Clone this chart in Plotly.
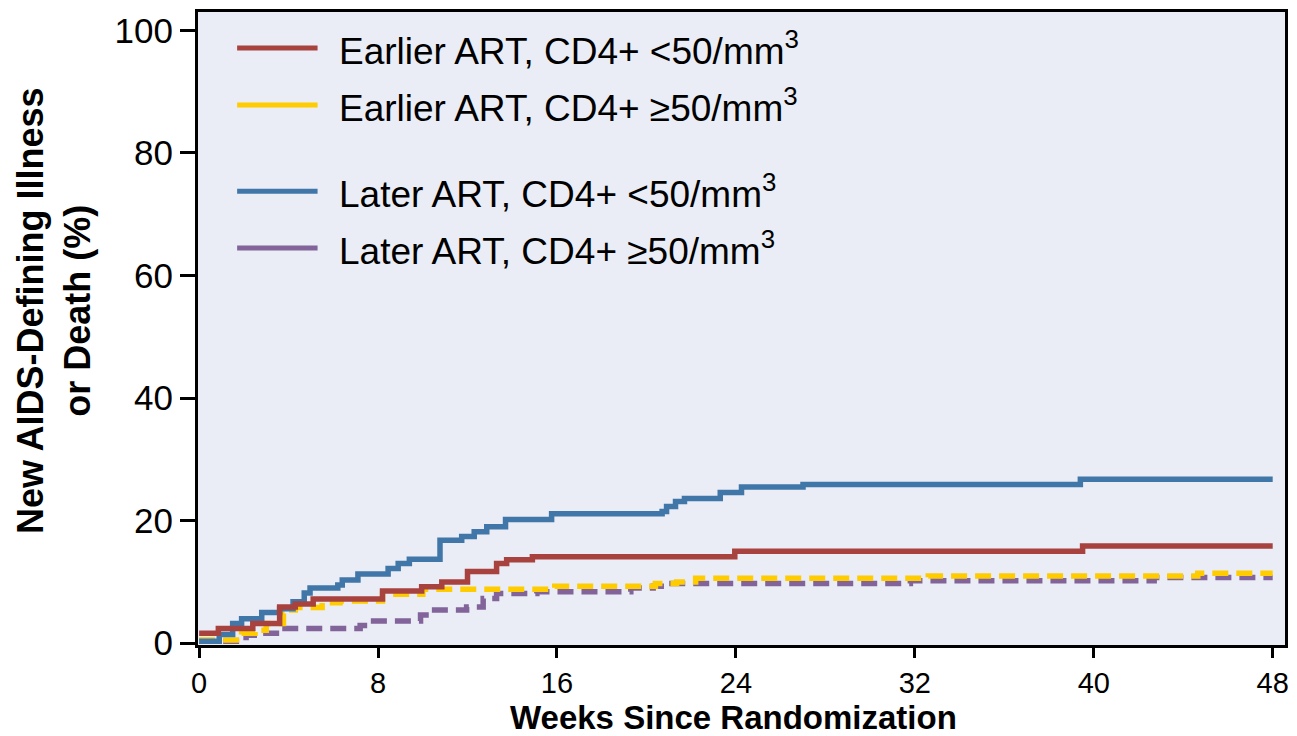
import plotly.graph_objects as go

# ---- data (weeks, cumulative % with new AIDS-defining illness or death) ----
early_lo_x = [0, 0.86, 2.4, 3.6, 4.3, 5.1, 8.2, 9.95, 10.85, 12.0, 13.3, 13.75, 14.9, 23.95, 39.5, 48]
early_lo_y = [1.6, 2.4, 3.2, 5.9, 6.4, 7.2, 8.5, 9.2, 10.0, 11.7, 13.0, 13.6, 14.1, 15.0, 15.85, 15.85]

early_hi_x = [0, 1.9, 2.5, 3.0, 3.77, 4.0, 4.3, 5.5, 6.3, 8.2, 10.0, 15.9, 20.4, 21.35, 22.2, 32.6, 44.65, 48]
early_hi_y = [0.5, 1.6, 2.1, 3.2, 4.85, 5.4, 5.8, 6.6, 6.9, 8.0, 8.8, 9.3, 9.75, 10.0, 10.6, 10.95, 11.4, 11.4]

later_lo_x = [0, 0.9, 1.5, 1.9, 2.8, 3.6, 4.2, 4.7, 4.96, 6.2, 6.4, 7.1, 8.45, 8.9, 9.4, 10.77, 11.74,
              12.3, 12.86, 13.7, 15.76, 20.7, 20.9, 21.3, 21.7, 23.3, 24.25, 27.0, 39.4, 48]
later_lo_y = [0.3, 1.4, 3.2, 4.0, 5.0, 5.6, 6.75, 8.2, 9.0, 9.5, 10.3, 11.3, 12.2, 13.0, 13.7, 16.8, 17.4,
              18.2, 19.0, 20.2, 21.1, 21.5, 22.3, 23.1, 23.6, 24.6, 25.5, 25.9, 26.75, 26.75]

later_hi_x = [0, 2.1, 2.65, 3.7, 7.2, 7.8, 9.9, 10.3, 11.96, 12.7, 13.3, 15.1, 19.3, 20.3, 21.0, 31.8, 42.7, 48]
later_hi_y = [0.3, 1.3, 1.6, 2.4, 2.9, 3.6, 4.6, 5.4, 5.9, 7.3, 8.1, 8.4, 9.0, 9.3, 9.75, 10.2, 10.7, 10.7]

x_ticks = [0, 8, 16, 24, 32, 40, 48]
y_ticks = [0, 20, 40, 60, 80, 100]

legend_labels = ["Earlier ART, CD4+ <50/mm<sup>3</sup>",
                 "Earlier ART, CD4+ \u226550/mm<sup>3</sup>",
                 "Later ART, CD4+ <50/mm<sup>3</sup>",
                 "Later ART, CD4+ \u226550/mm<sup>3</sup>"]

x_title = "<b>Weeks Since Randomization</b>"
y_title = "<b>New AIDS-Defining Illness<br>or Death (%)</b>"

RED = "#A8423F"
YEL = "#FFCC00"
BLU = "#4077A8"
PUR = "#82649A"
BG = "#EAEDF5"
FONT = "Liberation Sans, Arial, sans-serif"

fig = go.Figure()
W = 5.5
dash = "16px,8px"
fig.add_trace(go.Scatter(x=later_hi_x, y=later_hi_y, mode="lines", line=dict(color=PUR, width=W, dash=dash, shape="hv"), showlegend=False))
fig.add_trace(go.Scatter(x=early_hi_x, y=early_hi_y, mode="lines", line=dict(color=YEL, width=W, dash=dash, shape="hv"), showlegend=False))
fig.add_trace(go.Scatter(x=later_lo_x, y=later_lo_y, mode="lines", line=dict(color=BLU, width=W, shape="hv"), showlegend=False))
fig.add_trace(go.Scatter(x=early_lo_x, y=early_lo_y, mode="lines", line=dict(color=RED, width=W, shape="hv"), showlegend=False))

# manual legend (paper coordinates)
leg_colors = [RED, YEL, BLU, PUR]
leg_y = [0.943, 0.853, 0.717, 0.627]
for lab, col, yy in zip(legend_labels, leg_colors, leg_y):
    fig.add_shape(type="line", xref="paper", yref="paper", x0=0.036, x1=0.110, y0=yy, y1=yy,
                  line=dict(color=col, width=5))
    fig.add_annotation(xref="paper", yref="paper", x=0.128, y=yy, text=lab, showarrow=False,
                       xanchor="left", yanchor="middle", font=dict(family=FONT, size=37, color="black"))

# axis titles as annotations for precise placement
fig.add_annotation(xref="paper", yref="paper", x=0.493, y=-0.114, text=x_title, showarrow=False,
                   xanchor="center", yanchor="middle", font=dict(family=FONT, size=33, color="black"))
fig.add_annotation(xref="paper", yref="paper", x=-0.1325, y=0.529, text=y_title, showarrow=False,
                   textangle=-90, xanchor="center", yanchor="middle",
                   font=dict(family=FONT, size=36, color="black"))

fig.update_layout(
    width=1297, height=736,
    margin=dict(l=198, r=12, t=12, b=91),
    paper_bgcolor="white", plot_bgcolor=BG,
    font=dict(family=FONT, color="black"),
    showlegend=False,
)
fig.update_xaxes(range=[-0.05, 48.55], tickvals=x_ticks, ticks="outside", ticklen=10, tickwidth=3,
                 tickcolor="black", showline=True, linewidth=3, linecolor="black", mirror=True,
                 showgrid=False, zeroline=False, tickfont=dict(size=29, family=FONT), automargin=False)
fig.update_yaxes(range=[-0.3, 103], tickvals=y_ticks, ticks="outside", ticklen=15, tickwidth=3,
                 tickcolor="black", showline=True, linewidth=3, linecolor="black", mirror=True,
                 showgrid=False, zeroline=False, tickfont=dict(size=35, family=FONT), automargin=False)

fig.write_html("out.html")
